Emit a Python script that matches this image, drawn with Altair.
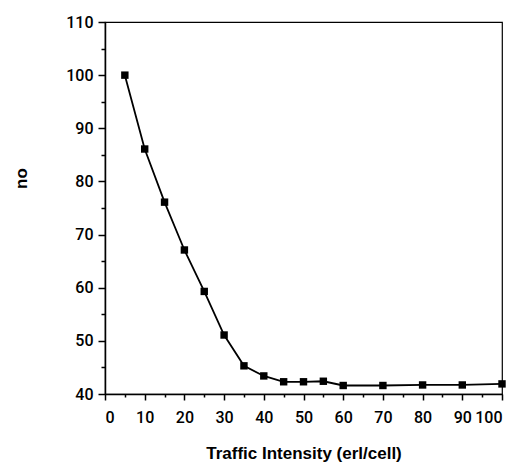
import altair as alt
import pandas as pd

traffic = [5, 10, 15, 20, 25, 30, 35, 40, 45, 50, 55, 60, 70, 80, 90, 100]
no_vals = [100.0, 86.1, 76.1, 67.1, 59.3, 51.1, 45.3, 43.4, 42.3, 42.3, 42.4, 41.6, 41.6, 41.7, 41.7, 41.9]

df = pd.DataFrame({"traffic": traffic, "no": no_vals})

font = "Roboto"
tfont = "Liberation Sans"

x_axis = alt.Axis(
    values=list(range(0, 101, 5)),
    labelExpr="datum.value % 10 === 0 ? datum.label : ''",
    tickSize={"condition": {"test": "datum.value % 10 === 0", "value": 6}, "value": 3},
    title="Traffic Intensity (erl/cell)",
    titleFontSize=17, titleFont=tfont, titleFontWeight="bold", titleColor="black",
    titlePadding=20,
    labelFont=font, labelFontSize=16, labelFontWeight=500, labelColor="black", labelPadding=9,
    domainColor="black", domainWidth=1.5, tickColor="black", tickWidth=1.5,
    grid=False,
)
y_axis = alt.Axis(
    values=list(range(40, 111, 5)),
    labelExpr="datum.value % 10 === 0 ? datum.label : ''",
    tickSize={"condition": {"test": "datum.value % 10 === 0", "value": 7}, "value": 4},
    title="no",
    titleFontSize=17, titleFont=tfont, titleFontWeight="bold", titleColor="black",
    titleX=-84, titleY=156, titleAngle=-90, titleAlign="center", titleBaseline="middle",
    labelFont=font, labelFontSize=16, labelFontWeight=500, labelColor="black", labelPadding=5,
    domainColor="black", domainWidth=1.5, tickColor="black", tickWidth=1.5,
    grid=False,
)

base = alt.Chart(df).encode(
    x=alt.X("traffic:Q", scale=alt.Scale(domain=[0, 100], nice=False, zero=False), axis=x_axis),
    y=alt.Y("no:Q", scale=alt.Scale(domain=[40, 110], nice=False, zero=False), axis=y_axis),
)

line = base.mark_line(color="black", strokeWidth=1.8)
pts = base.mark_point(shape="square", filled=True, color="black", size=55, opacity=1)

chart = (line + pts).properties(
    width=397, height=372,
    autosize=alt.AutoSizeParams(type="none"),
    padding={"left": 97, "top": 14, "right": 9, "bottom": 71},
).configure_view(stroke="black", strokeWidth=1.2)

chart.save("out.html", embed_options={"renderer": "svg", "actions": False})
